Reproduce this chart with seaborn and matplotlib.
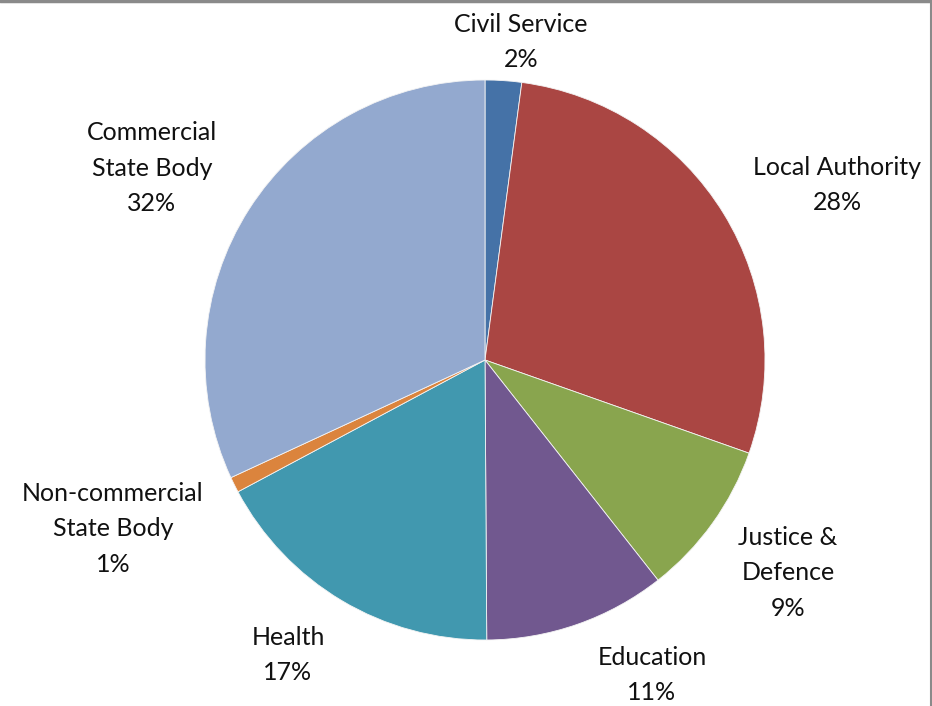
import matplotlib
matplotlib.use("Agg")
import matplotlib.pyplot as plt
import seaborn as sns
from matplotlib.lines import Line2D

sns.set_theme(style="white")
plt.rcParams['font.family'] = ['Lato', 'DejaVu Sans']

categories = ["Civil Service", "Local Authority", "Justice &\nDefence", "Education",
              "Health", "Non-commercial\nState Body", "Commercial\nState Body"]
values = [2.1, 28.3, 9.0, 10.5, 17.3, 0.9, 31.9]
pct_labels = ["2%", "28%", "9%", "11%", "17%", "1%", "32%"]
colors = sns.color_palette(["#4572A7", "#AA4643", "#89A54E", "#71588F",
                            "#4198AF", "#DB843D", "#93A9CF"])

W, H = 932, 706
fig = plt.figure(figsize=(W / 100, H / 100), dpi=100)
ax = fig.add_axes([0, 0, 1, 1])
ax.set_xlim(0, W)
ax.set_ylim(0, H)
ax.set_aspect('equal')
ax.axis('off')

ax.pie(values, colors=colors, startangle=90, counterclock=False,
       center=(485, H - 360), radius=280,
       wedgeprops=dict(edgecolor='#f4f4f4', linewidth=0.6))
ax.set_xlim(0, W)
ax.set_ylim(0, H)

label_pos = [(521, 42), (837, 185), (788, 573), (652, 675),
             (288, 655), (113, 529), (152, 168)]
for cat, pct, (x, y) in zip(categories, pct_labels, label_pos):
    ax.text(x, H - y, f"{cat}\n{pct}", ha='center', va='center',
            fontsize=18, color='#111111', linespacing=1.66)

fig.add_artist(Line2D([0, 1], [0.998, 0.998], transform=fig.transFigure,
                      color='#8a8a8a', linewidth=2.5))
fig.add_artist(Line2D([0.9985, 0.9985], [0, 1], transform=fig.transFigure,
                      color='#8a8a8a', linewidth=1.5))

fig.savefig("out.png", dpi=100, facecolor='white')
